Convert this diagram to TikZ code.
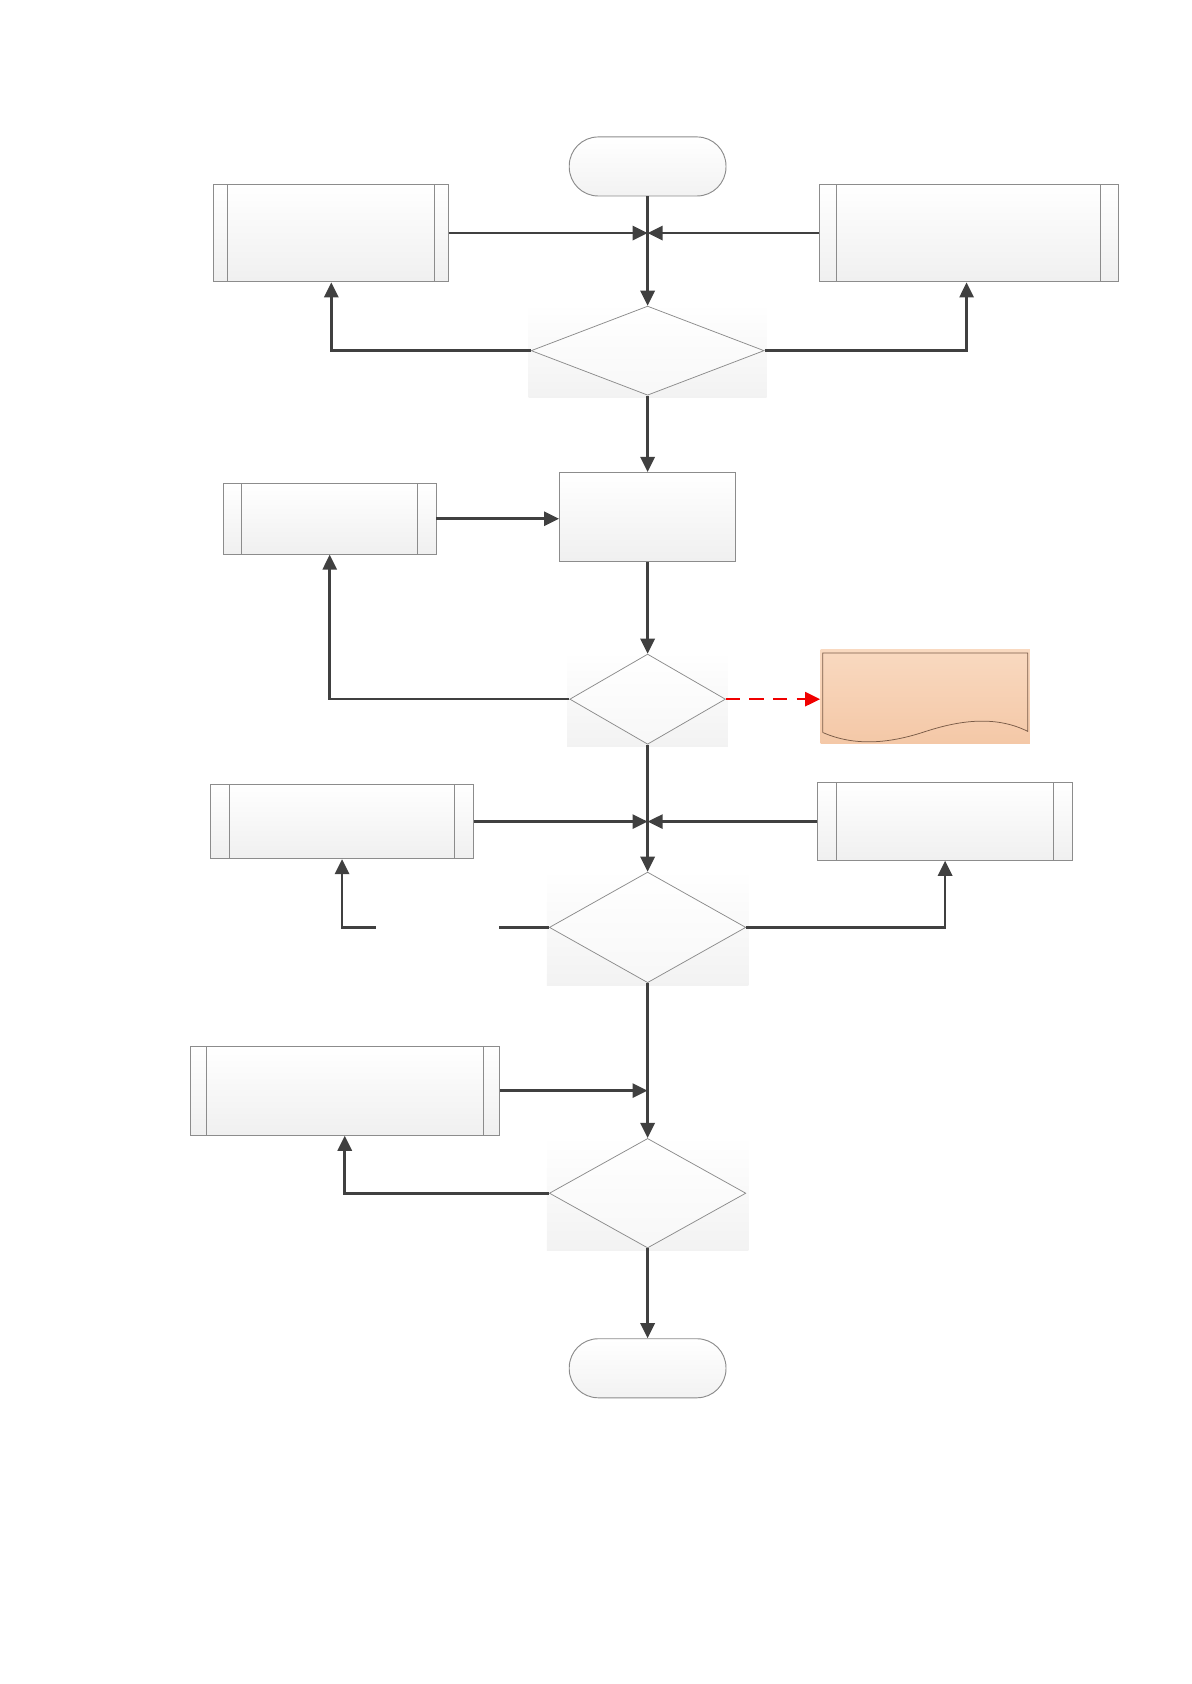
\documentclass[tikz,border=0pt]{standalone}
\usepackage{tikz}
\usetikzlibrary{arrows.meta}
\usetikzlibrary{shapes.geometric}
\usetikzlibrary{backgrounds}
\usetikzlibrary{fit}
\definecolor{lineg}{HTML}{404040}
\definecolor{boxg}{HTML}{8C8C8C}
\definecolor{docA}{HTML}{F9D9C0}
\definecolor{docB}{HTML}{F4C8A7}
\definecolor{docline}{HTML}{7A5C48}
\definecolor{dashred}{HTML}{F00000}

\begin{document}
\begin{tikzpicture}[x=0.02cm,y=-0.02cm,
  conn/.style={lineg,line width=1.4pt},
  arr/.style={conn,-{Triangle[length=8pt,width=7.5pt]}},
  term/.style={draw=boxg,line width=0.5pt,rounded corners=0.54cm,minimum width=2.92cm,minimum height=1.1cm,top color=white,bottom color=black!5},
  proc/.style={draw=boxg,line width=0.5pt,inner sep=0pt,top color=white,bottom color=black!6},
  subproc/.style={proc,path picture={
    \draw[boxg,line width=0.5pt] ([xshift=#1]path picture bounding box.north west) -- ([xshift=#1]path picture bounding box.south west);
    \draw[boxg,line width=0.5pt] ([xshift=-#1]path picture bounding box.north east) -- ([xshift=-#1]path picture bounding box.south east);}},
  dec/.style={diamond,draw=boxg,line width=0.4pt,inner sep=0pt,top color=white,bottom color=black!3},
  dbg/.style={inner sep=0.04cm,top color=white,bottom color=black!5},
  rep/.style={inner sep=0pt,minimum width=3.9cm,minimum height=1.74cm,top color=docA,bottom color=docB}]
\useasboundingbox (0,0) rectangle (1109,1568);

% shapes
\node[term] (start) at (603,155) {};
\node[subproc=0.26cm,minimum width=4.38cm,minimum height=1.82cm] (A) at (308.5,217) {};
\node[subproc=0.32cm,minimum width=5.56cm,minimum height=1.82cm] (B) at (902,217) {};
\node[dec,minimum width=4.34cm,minimum height=1.66cm] (D1) at (603,326.5) {};
\node[proc,minimum width=3.28cm,minimum height=1.66cm] (P) at (603,481.5) {};
\node[subproc=0.34cm,minimum width=3.96cm,minimum height=1.32cm] (C) at (307,483) {};
\node[dec,minimum width=2.9cm,minimum height=1.68cm] (D2) at (603,651) {};
\node[rep] (R) at (861.5,648.5) {};
\draw[docline,line width=0.4pt] (766,682) -- (766,608) -- (957,608) -- (957,681)
  .. controls (925,665) and (890,672) .. (862,681)
  .. controls (835,690) and (800,697) .. (766,682);
\node[subproc=0.36cm,minimum width=4.9cm,minimum height=1.38cm] (E) at (318.5,765) {};
\node[subproc=0.36cm,minimum width=4.76cm,minimum height=1.44cm] (F) at (880,765) {};
\node[dec,minimum width=3.66cm,minimum height=2.06cm] (D3) at (603,863.5) {};
\node[subproc=0.3cm,minimum width=5.76cm,minimum height=1.66cm] (G) at (321,1015.5) {};
\node[dec,minimum width=3.66cm,minimum height=2.04cm] (D4) at (603,1111) {};
\node[term] (stop) at (603,1274) {};

\begin{scope}[on background layer]
\foreach \d in {D1,D2,D3,D4}
  {\node[dbg,fit=(\d.north)(\d.south)(\d.east)(\d.west)] {};}
\end{scope}

% connectors
\draw[arr] (start) -- (D1);
\draw[arr] (A.east) -- (A.east -| start.south);
\draw[arr] (B.west) -- (B.west -| start.south);
\draw[arr] (D1.west) -| (A.south);
\draw[arr] (D1.east) -| ([xshift=-0.04cm]B.south);
\draw[arr] (D1) -- (P);
\draw[arr] (C.east) -- (C.east -| P.west);
\draw[arr] (P) -- (D2);
\draw[arr] (D2.west) -| (C.south);
\draw[arr,dashred,line width=1.2pt,dash pattern=on 7.5pt off 5pt] (D2.east) -- (D2.east -| R.west);
\draw[arr] (D2) -- (D3);
\draw[arr] (E.east) -- (E.east -| D3.north);
\draw[arr] (F.west) -- (F.west -| D3.north);
\coordinate (gapR) at (465,863.5);
\coordinate (gapL) at (350,863.5);
\draw[conn] (D3.west) -- (gapR);
\draw[arr] (gapL) -| (E.south);
\draw[arr] (D3.east) -| (F.south);
\draw[arr] (D3) -- (D4);
\draw[arr] (G.east) -- (G.east -| D4.north);
\draw[arr] (D4.west) -| (G.south);
\draw[arr] (D4) -- (stop);
\end{tikzpicture}
\end{document}
